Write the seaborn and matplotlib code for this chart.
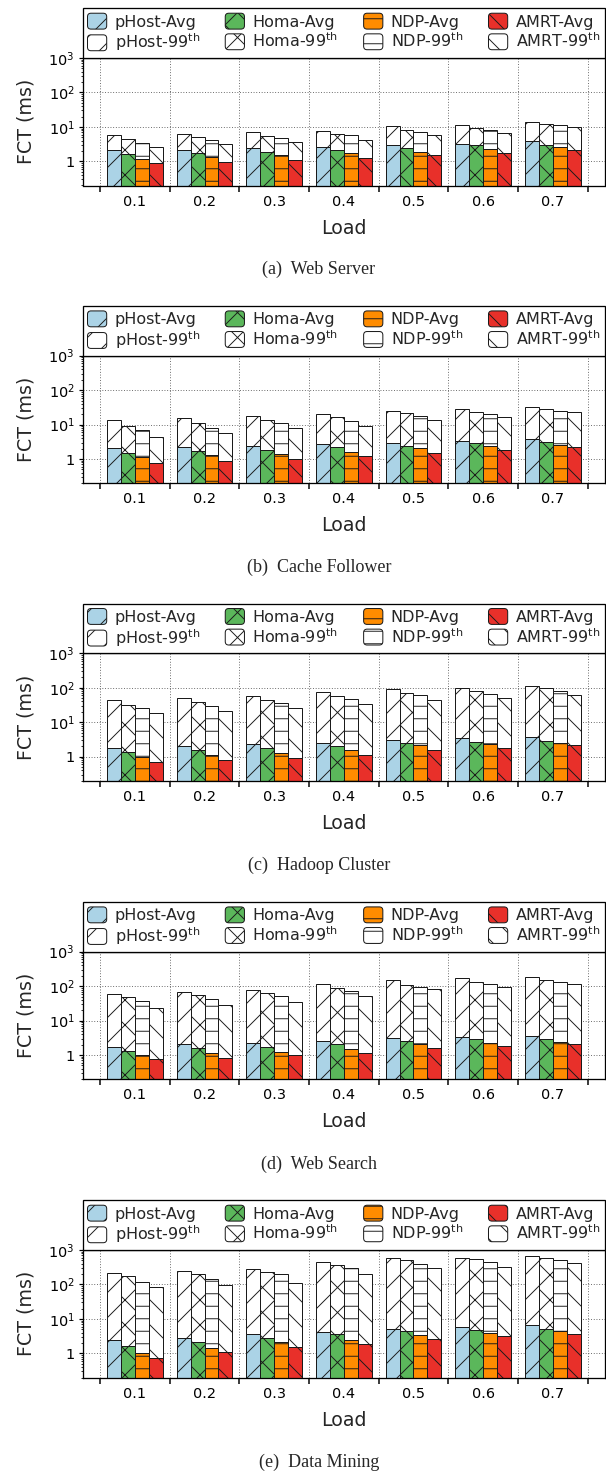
import numpy as np
import pandas as pd
import matplotlib
matplotlib.use("Agg")
import matplotlib.pyplot as plt
import seaborn as sns
from matplotlib.patches import Patch, FancyBboxPatch
from matplotlib.legend_handler import HandlerPatch
from matplotlib.ticker import FixedLocator, FuncFormatter, LogLocator, NullFormatter

# ---------------- data ----------------
loads = ["0.1", "0.2", "0.3", "0.4", "0.5", "0.6", "0.7"]
methods = ["pHost", "Homa", "NDP", "AMRT"]
captions = ["(a)  Web Server", "(b)  Cache Follower", "(c)  Hadoop Cluster",
            "(d)  Web Search", "(e)  Data Mining"]

# each list: [pHost, Homa, NDP, AMRT] x loads
web_server_avg = [[2.1, 2.2, 2.37, 2.6, 3.0, 3.3, 3.9],
                  [1.59, 1.74, 1.9, 2.2, 2.5, 2.9, 3.0],
                  [1.19, 1.33, 1.52, 1.74, 1.86, 2.3, 2.65],
                  [0.875, 0.98, 1.12, 1.28, 1.56, 1.78, 2.2]]
web_server_p99 = [[5.7, 6.3, 7.2, 7.8, 10.7, 11.2, 14.2],
                  [4.4, 5.0, 5.5, 6.4, 8.4, 9.6, 12.2],
                  [3.4, 4.2, 4.8, 5.9, 7.3, 8.2, 11.4],
                  [2.65, 3.16, 3.6, 4.2, 5.9, 6.7, 10.0]]

cache_avg = [[2.14, 2.24, 2.45, 2.75, 2.93, 3.3, 3.84],
             [1.5, 1.68, 1.87, 2.24, 2.45, 2.87, 3.14],
             [1.14, 1.34, 1.4, 1.57, 2.1, 2.4, 2.56],
             [0.76, 0.91, 1.0, 1.2, 1.5, 1.8, 2.24]]
cache_p99 = [[13.8, 15.8, 18, 20.6, 25.3, 27.5, 32.3],
             [9.4, 11, 13.8, 16.9, 22, 24, 28.8],
             [6.9, 8.0, 11, 12.9, 17.6, 20.6, 25.3],
             [4.4, 5.75, 8.0, 9.4, 13.8, 16.9, 22.6]]

hadoop_avg = [[1.8, 2.06, 2.36, 2.58, 3.02, 3.38, 3.8],
              [1.37, 1.54, 1.76, 2.06, 2.52, 2.76, 2.95],
              [0.98, 1.15, 1.28, 1.57, 2.15, 2.3, 2.58],
              [0.71, 0.82, 0.91, 1.15, 1.57, 1.8, 2.2]]
hadoop_p99 = [[43, 51, 58, 76, 93, 100, 115],
              [32, 38, 45, 57, 71, 81, 96],
              [26.4, 29, 36, 48.6, 62, 68, 78],
              [18, 21, 25.8, 33, 45, 51, 62]]

search_avg = [[1.75, 2.14, 2.24, 2.56, 3.06, 3.27, 3.58],
              [1.31, 1.6, 1.71, 2.04, 2.5, 2.86, 2.99],
              [1.0, 1.17, 1.25, 1.5, 2.14, 2.29, 2.44],
              [0.75, 0.84, 0.98, 1.17, 1.64, 1.79, 2.14]]
search_p99 = [[61, 70, 80, 112, 150, 167, 183],
              [50, 57, 65.5, 86, 109, 131, 156],
              [36, 41.7, 53.5, 73, 96, 112, 131],
              [24, 28.6, 35, 53.5, 81.6, 93.5, 114]]

mining_avg = [[2.45, 2.87, 3.67, 4.2, 5.25, 5.9, 6.87],
              [1.68, 2.1, 2.74, 3.59, 4.4, 4.8, 5.25],
              [1.02, 1.4, 2.1, 2.5, 3.43, 3.93, 4.5],
              [0.75, 1.12, 1.57, 1.87, 2.62, 3.14, 3.75]]
mining_p99 = [[222, 238, 278, 436, 582, 596, 651],
              [174, 195, 232, 363, 509, 545, 582],
              [119, 142, 195, 297, 398, 436, 509],
              [83, 95, 108, 199, 304, 332, 407]]

panels = [(web_server_avg, web_server_p99), (cache_avg, cache_p99),
          (hadoop_avg, hadoop_p99), (search_avg, search_p99),
          (mining_avg, mining_p99)]

# ---------------- style ----------------
colors = ["#abd3e6", "#5bb75b", "#ff8c00", "#e8302a"]
hatches = ["/", "x", "-", "\\"]
EDGE = "#1a1a1a"

DPI = 75
W, H = 606, 1475
def fs(px):
    return px * 72.0 / DPI

sns.set_theme(style="ticks")
plt.rcParams["font.family"] = ["DejaVu Sans"]
plt.rcParams["mathtext.fontset"] = "dejavusans"
plt.rcParams["hatch.linewidth"] = 0.9
plt.rcParams["hatch.color"] = EDGE
plt.rcParams["axes.edgecolor"] = "black"
plt.rcParams["axes.linewidth"] = fs(1.3)
plt.rcParams["xtick.color"] = "black"
plt.rcParams["ytick.color"] = "black"

fig = plt.figure(figsize=(W / DPI, H / DPI), dpi=DPI)

ax_left, ax_right = 82.7, 605.0
tops = [58, 355.7, 653.3, 951.7, 1250]
ax_h = 127.5
cap_y = [269, 567.3, 865.7, 1164.3, 1462.7]


def fmt(v, pos):
    if abs(v - 1) < 1e-9:
        return "1"
    return r"$10^{%d}$" % int(round(np.log10(v)))


def rounded_handle(legend, orig_handle, xdescent, ydescent, width, height, fontsize):
    return FancyBboxPatch((-xdescent, -ydescent), width, height,
                          boxstyle="round,pad=0,rounding_size=%f" % (0.22 * height),
                          mutation_aspect=1)


for i, (avg, p99) in enumerate(panels):
    top = tops[i]
    ax = fig.add_axes([ax_left / W, 1 - (top + ax_h) / H,
                       (ax_right - ax_left) / W, ax_h / H])
    df99 = pd.DataFrame({"load": np.tile(loads, 4),
                         "method": np.repeat(methods, len(loads)),
                         "fct": np.concatenate(p99)})
    dfavg = pd.DataFrame({"load": np.tile(loads, 4),
                          "method": np.repeat(methods, len(loads)),
                          "fct": np.concatenate(avg)})
    sns.barplot(data=df99, x="load", y="fct", hue="method", hue_order=methods,
                order=loads, palette=["white"] * 4, saturation=1, width=0.8,
                dodge=True, edgecolor=EDGE, linewidth=fs(1.0), legend=False,
                errorbar=None, ax=ax)
    sns.barplot(data=dfavg, x="load", y="fct", hue="method", hue_order=methods,
                order=loads, palette=colors, saturation=1, width=0.8,
                dodge=True, edgecolor=EDGE, linewidth=fs(1.0), legend=False,
                errorbar=None, ax=ax)
    for k, cont in enumerate(ax.containers):
        for bar in cont:
            bar.set_hatch(hatches[k % 4])

    ax.set_yscale("log")
    ax.set_ylim(0.2, 1000)
    ax.set_xlim(-0.75, 6.75)
    ax.set_axisbelow(True)

    ax.yaxis.set_major_locator(FixedLocator([1, 10, 100, 1000]))
    ax.yaxis.set_major_formatter(FuncFormatter(fmt))
    ax.yaxis.set_minor_locator(LogLocator(base=10, subs=np.arange(2, 10)))
    ax.yaxis.set_minor_formatter(NullFormatter())

    ax.set_xticks(np.arange(-0.5, 7, 1))
    ax.set_xticklabels([])
    ax.set_xticks(np.arange(len(loads)), minor=True)
    ax.set_xticklabels(loads, minor=True)

    ax.tick_params(axis="x", which="major", length=fs(6), width=fs(1.5),
                   direction="out")
    ax.tick_params(axis="x", which="minor", length=0, pad=fs(9),
                   labelsize=fs(14.5))
    ax.tick_params(axis="y", which="major", length=fs(4), width=fs(1.2),
                   labelsize=fs(14.5), pad=fs(4))
    ax.tick_params(axis="y", which="minor", length=fs(2.5), width=fs(0.8))

    ax.grid(False)
    ax.xaxis.grid(True, which="major", linestyle=(0, (1, 2)),
                  color="#555555", linewidth=fs(0.9))
    ax.yaxis.grid(True, which="major", linestyle=(0, (1, 2)),
                  color="#555555", linewidth=fs(0.9))

    for s in ax.spines.values():
        s.set_visible(True)
        s.set_color("black")
        s.set_linewidth(fs(1.3))

    ax.set_xlabel("Load", fontsize=fs(19), labelpad=fs(10))
    ax.set_ylabel("FCT (ms)", fontsize=fs(19), labelpad=fs(13))

    handles = []
    for m, c, h in zip(methods, colors, hatches):
        handles.append(Patch(facecolor=c, edgecolor=EDGE, hatch=h,
                             linewidth=fs(1.0), label=f"{m}-Avg"))
        handles.append(Patch(facecolor="white", edgecolor=EDGE, hatch=h,
                             linewidth=fs(1.0),
                             label=m + r"-99$^{\mathrm{th}}$"))
    leg = ax.legend(handles=handles, ncol=4, loc="lower left",
                    bbox_to_anchor=(0, 1, 1, 0.4), mode="expand",
                    borderaxespad=0, fancybox=False, frameon=True,
                    edgecolor="black", fontsize=fs(16), handlelength=1.2,
                    handleheight=1.15, handletextpad=0.5, labelspacing=0.12,
                    borderpad=0.3, columnspacing=1.0,
                    handler_map={Patch: HandlerPatch(patch_func=rounded_handle)})
    leg.get_frame().set_linewidth(fs(1.3))
    leg.get_frame().set_alpha(1)

    fig.text(319 / W, 1 - cap_y[i] / H, captions[i], ha="center", va="center",
             fontsize=fs(18), family="Liberation Serif")

fig.savefig("out.png", dpi=DPI)
